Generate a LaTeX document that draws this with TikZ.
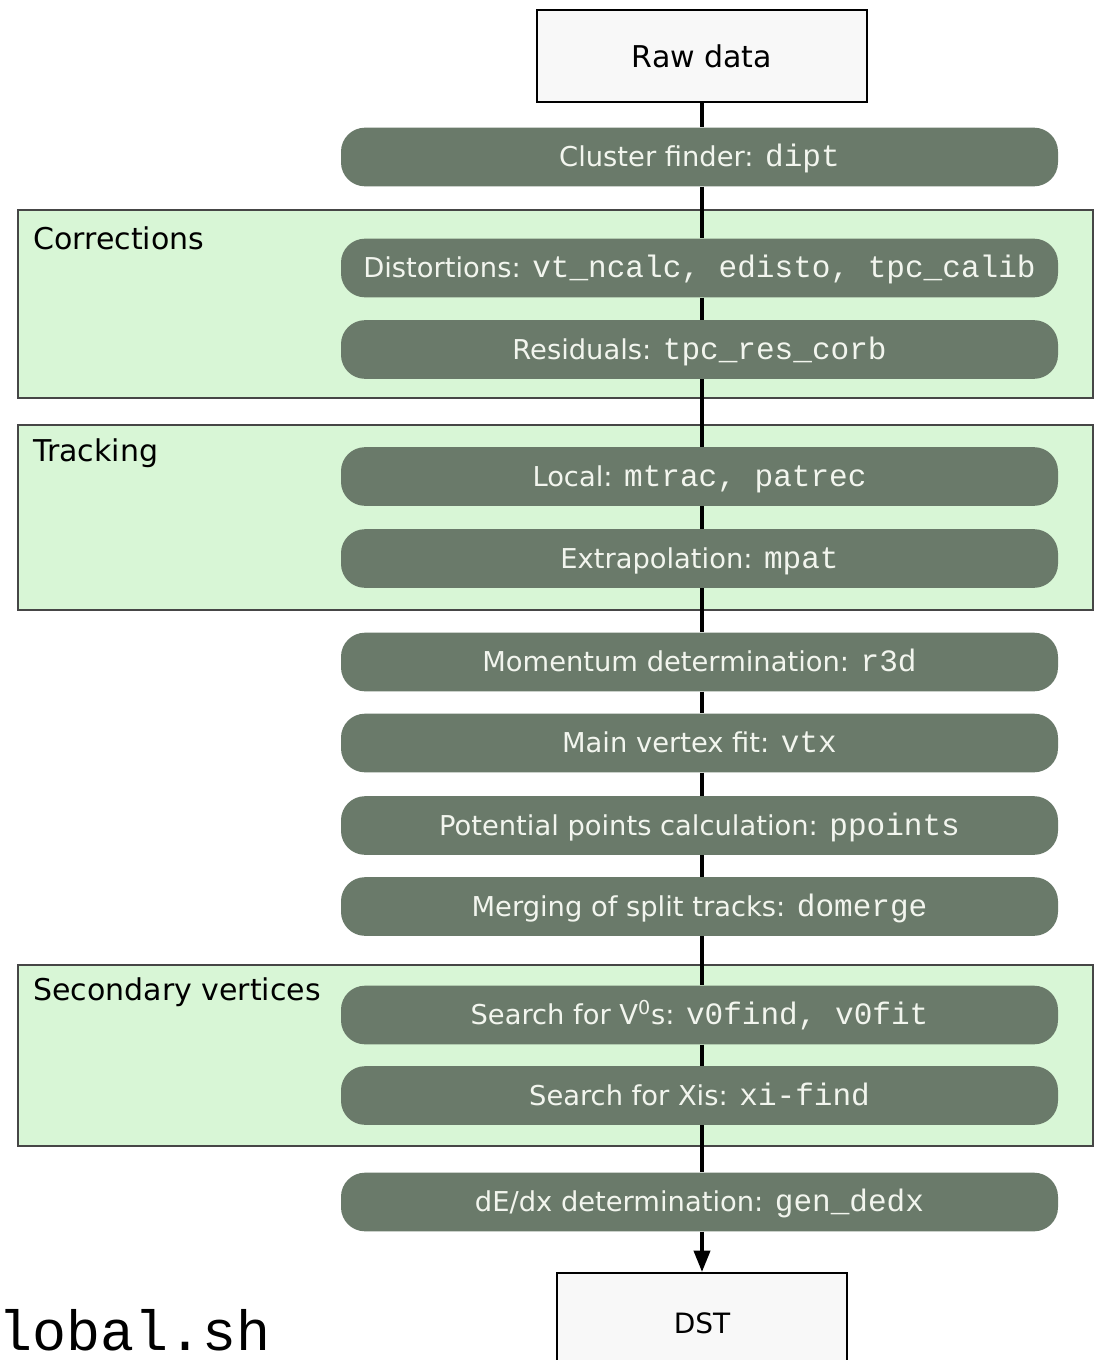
\documentclass[tikz,border=0pt]{standalone}
\usepackage{fontspec}
\setmainfont{DejaVu Sans}
\newfontfamily\monofam{Liberation Mono}
\usetikzlibrary{arrows.meta}
\definecolor{pillfill}{RGB}{106,122,106}
\definecolor{pilltext}{RGB}{242,245,238}
\definecolor{grpfill}{RGB}{216,246,214}
\definecolor{grpline}{RGB}{70,70,70}
\definecolor{boxfill}{RGB}{248,248,248}
\newcommand{\cmd}[1]{{\monofam\fontsize{23.3}{26}\selectfont #1}}
\begin{document}
\begin{tikzpicture}[x=0.75pt,y=-0.75pt,
 pill/.style={rectangle, rounded corners=18pt, fill=pillfill, text=pilltext,
   minimum width=537.75pt, minimum height=44pt, inner sep=0pt,
   text height=14.8pt, text depth=0pt, font=\fontsize{20.5}{24}\selectfont},
 databox/.style={rectangle, draw=black, line width=1.5pt, fill=boxfill, inner sep=0pt},
 grp/.style={draw=grpline, line width=1pt, fill=grpfill},
 grplabel/.style={anchor=base west, inner sep=0pt, font=\fontsize{22.5}{26}\selectfont},
 flow/.style={line width=2.8pt, draw=black}]
\useasboundingbox (0,0) rectangle (1094,1360);
\clip (0,0) rectangle (1094,1360);
\fill[white] (0,0) rectangle (1094,1360);

% groups
\draw[grp] (18,210) rectangle (1093,398);
\node[grplabel] (lcorr) at (33,249) {Corrections};
\draw[grp] (18,425) rectangle (1093,610);
\node[grplabel] (ltrack) at (33,461) {Tracking};
\draw[grp] (18,965) rectangle (1093,1146);
\node[grplabel] (lsec) at (33,1000) {Secondary vertices};

% data boxes
\node[databox, minimum width=247.5pt, minimum height=69pt,
      font=\fontsize{22.5}{26}\selectfont] (raw) at (702,56) {Raw data};
\node[databox, minimum width=217.5pt, minimum height=75pt,
      font=\fontsize{21}{25}\selectfont] (dst) at (702,1323) {DST};

% steps
\node[pill] (clus) at (699.5,157) {Cluster finder: \cmd{dipt}};
\node[pill] (dist) at (699.5,268) {Distortions: \cmd{vt\_ncalc, edisto, tpc\_calib}};
\node[pill] (resid) at (699.5,349.5) {Residuals: \cmd{tpc\_res\_corb}};
\node[pill] (local) at (699.5,476.5) {Local: \cmd{mtrac, patrec}};
\node[pill] (extra) at (699.5,558.5) {Extrapolation: \cmd{mpat}};
\node[pill] (mom) at (699.5,662) {Momentum determination: \cmd{r3d}};
\node[pill] (mvtx) at (699.5,743) {Main vertex fit: \cmd{vtx}};
\node[pill] (ppts) at (699.5,825.5) {Potential points calculation: \cmd{ppoints}};
\node[pill] (merge) at (699.5,906.5) {Merging of split tracks: \cmd{domerge}};
\node[pill] (vzero) at (699.5,1015) {Search for V\textsuperscript{0}s: \cmd{v0find, v0fit}};
\node[pill] (xis) at (699.5,1095.5) {Search for Xis: \cmd{xi-find}};
\node[pill] (dedx) at (699.5,1202) {dE/dx determination: \cmd{gen\_dedx}};

% connectors
\draw[flow] (raw.south) -- (raw.south |- clus.north);
\draw[flow] (raw.south |- clus.south) -- (raw.south |- dist.north);
\draw[flow] (raw.south |- dist.south) -- (raw.south |- resid.north);
\draw[flow] (raw.south |- resid.south) -- (raw.south |- local.north);
\draw[flow] (raw.south |- local.south) -- (raw.south |- extra.north);
\draw[flow] (raw.south |- extra.south) -- (raw.south |- mom.north);
\draw[flow] (raw.south |- mom.south) -- (raw.south |- mvtx.north);
\draw[flow] (raw.south |- mvtx.south) -- (raw.south |- ppts.north);
\draw[flow] (raw.south |- ppts.south) -- (raw.south |- merge.north);
\draw[flow] (raw.south |- merge.south) -- (raw.south |- vzero.north);
\draw[flow] (raw.south |- vzero.south) -- (raw.south |- xis.north);
\draw[flow] (raw.south |- xis.south) -- (raw.south |- dedx.north);
\draw[flow, -{Triangle[length=16pt, width=12pt]}] (raw.south |- dedx.south) -- (dst.north);

% script name
\node[anchor=base west, inner sep=0pt, font=\monofam\fontsize{42.5}{46}\selectfont] (script) at (-2,1350) {lobal.sh};
\end{tikzpicture}
\end{document}
